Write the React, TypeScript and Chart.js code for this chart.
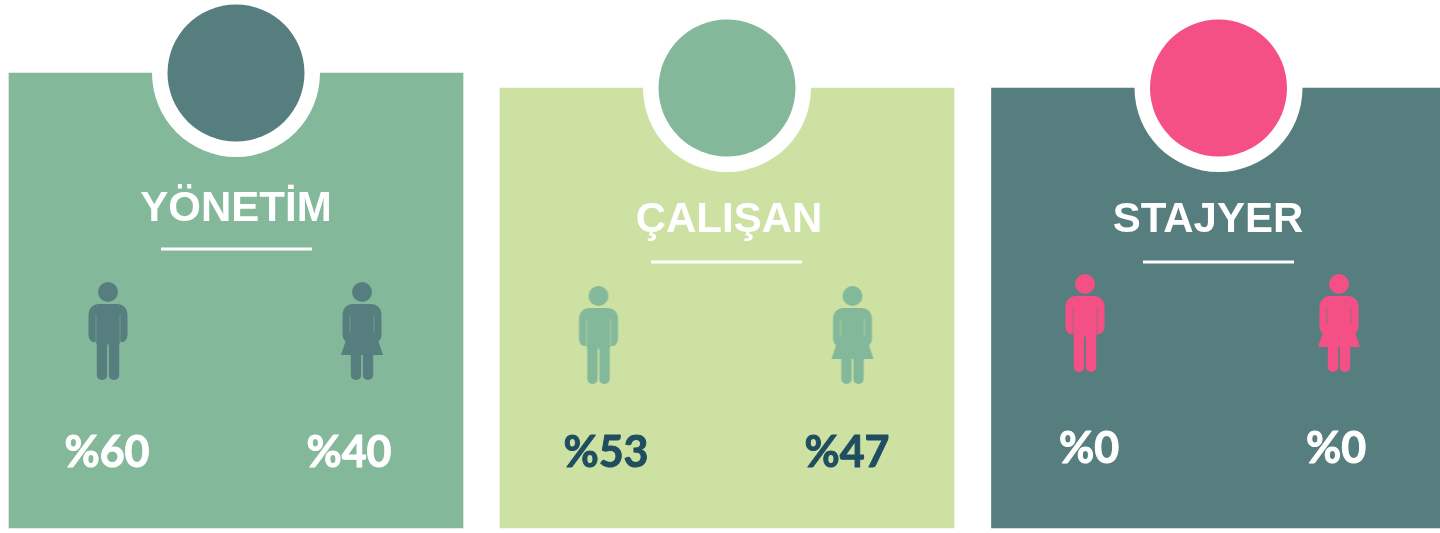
import React, { useEffect, useRef } from "react";
import { Chart, registerables } from "chart.js";

Chart.register(...registerables);

// --- data ---
const categories = ["YÖNETİM", "ÇALIŞAN", "STAJYER"];
const maleShare = [60, 53, 0];
const femaleShare = [40, 47, 0];

// --- layout (page pixels, the hidden scales run 1:1 with the page) ---
const W = 1440;
const H = 533;
const panelCentre = [236, 727, 1218.5];
const panelTop = [73, 88, 88];
const panelBottom = 528;
const titleCentre = [236, 729, 1208];
const titleBase = [221, 232, 232];
const ruleCentre = [236.5, 726.5, 1218.5];
const ruleY = [249, 262, 262];
const maleX = [108, 598.5, 1085];
const femaleX = [362, 852.5, 1339];
const figureMid = [331, 335, 323];
const maleTextX = [107, 606, 1089];
const femaleTextX = [349, 847, 1336];
const textBase = [467, 467, 463];

const panelColor = ["#84B89A", "#CDE2A2", "#567E7F"];
const discColor = ["#567E7F", "#84B89A", "#F45085"];
const textColor = ["#FFFFFF", "#1F4E60", "#FFFFFF"];

function figure(kind: "m" | "f", color: string, gap: string) {
  const c = document.createElement("canvas");
  const w = 50;
  const h = 98;
  c.width = w;
  c.height = h;
  const g = c.getContext("2d")!;
  g.translate(w / 2, 0);
  g.fillStyle = color;
  const rr = (x: number, y: number, rw: number, rh: number, r: any) => {
    g.beginPath();
    g.roundRect(x, y, rw, rh, r);
    g.fill();
  };
  g.beginPath();
  g.arc(0, 10, 10, 0, Math.PI * 2);
  g.fill();
  // shoulders and arms
  rr(-19.5, 22, 39, 39, [10, 10, 8, 8]);
  // legs
  const lw = 10.5;
  rr(-lw - 0.7, 50, lw, 48, 5);
  rr(0.7, 50, lw, 48, 5);
  g.fillRect(-lw - 0.7, 50, 2 * lw + 1.4, 14);
  if (kind === "f") {
    g.beginPath();
    g.moveTo(-14, 52);
    g.lineTo(14, 52);
    g.lineTo(21, 73);
    g.lineTo(-21, 73);
    g.closePath();
    g.fill();
  }
  // faint gaps between arms, body and legs
  g.globalAlpha = 0.55;
  g.fillStyle = gap;
  const gapBottom = kind === "m" ? 60 : 50;
  g.fillRect(-12.5, 33, 1, gapBottom - 33);
  g.fillRect(11.5, 33, 1, gapBottom - 33);
  g.globalAlpha = 1;
  if (kind === "m") {
    g.fillRect(-19.5, 60, 7.5, 3);
    g.fillRect(12, 60, 7.5, 3);
    g.globalAlpha = 0.7;
    g.fillRect(-0.7, 62, 1.4, 36);
  } else {
    g.globalAlpha = 0.7;
    g.fillRect(-0.7, 73, 1.4, 25);
  }
  return c;
}

const titlesAndValues = {
  id: "titlesAndValues",
  afterDatasetsDraw(chart: any) {
    const { ctx, scales } = chart;
    const px = (v: number) => scales.x.getPixelForValue(v);
    const py = (v: number) => scales.y.getPixelForValue(v);
    ctx.save();
    ctx.textAlign = "center";
    ctx.textBaseline = "alphabetic";
    ctx.lineJoin = "round";
    categories.forEach((name, i) => {
      ctx.fillStyle = "#FFFFFF";
      ctx.font = 'bold 42px "Liberation Sans"';
      ctx.fillText(name, px(titleCentre[i]), py(titleBase[i]));
      ctx.fillRect(px(ruleCentre[i] - 75.5), py(ruleY[i] - 1.5), 151, 3);
      ctx.fillStyle = textColor[i];
      ctx.strokeStyle = textColor[i];
      ctx.lineWidth = 1;
      ctx.font = 'bold 43px Lato';
      [
        [`%${maleShare[i]}`, maleTextX[i]],
        [`%${femaleShare[i]}`, femaleTextX[i]],
      ].forEach(([label, x]: any) => {
        ctx.fillText(label, px(x), py(textBase[i]));
        ctx.strokeText(label, px(x), py(textBase[i]));
      });
    });
    ctx.restore();
  },
};

export default function App() {
  const ref = useRef<HTMLCanvasElement>(null);
  useEffect(() => {
    const men = categories.map((_, i) => figure("m", discColor[i], panelColor[i]));
    const women = categories.map((_, i) => figure("f", discColor[i], panelColor[i]));
    const chart = new Chart(ref.current!, {
      type: "bar",
      data: {
        datasets: [
          {
            type: "scatter",
            label: "Kadın",
            order: 1,
            data: categories.map((_, i) => ({ x: femaleX[i], y: figureMid[i] })),
            pointStyle: women,
            pointRadius: 25,
          },
          {
            type: "scatter",
            label: "Erkek",
            order: 2,
            data: categories.map((_, i) => ({ x: maleX[i], y: figureMid[i] })),
            pointStyle: men,
            pointRadius: 25,
          },
          {
            type: "scatter",
            label: "Daire",
            order: 3,
            data: categories.map((_, i) => ({ x: panelCentre[i], y: panelTop[i] })),
            pointRadius: 68.5,
            pointBackgroundColor: discColor,
            pointBorderWidth: 0,
          },
          {
            type: "scatter",
            label: "Halka",
            order: 4,
            data: categories.map((_, i) => ({ x: panelCentre[i], y: panelTop[i] })),
            pointRadius: 84,
            pointBackgroundColor: "#FFFFFF",
            pointBorderWidth: 0,
          },
          {
            type: "bar",
            label: "Panel",
            order: 5,
            data: categories.map((_, i) => ({ x: panelCentre[i], y: [panelTop[i], panelBottom] })),
            backgroundColor: panelColor,
            barThickness: 454,
            grouped: false,
            borderWidth: 0,
          },
        ] as any,
      },
      options: {
        responsive: false,
        animation: false,
        layout: { padding: 0, autoPadding: false },
        plugins: { legend: { display: false }, tooltip: { enabled: false } },
        scales: {
          x: { type: "linear", min: 0, max: W, display: false, offset: false },
          y: { type: "linear", min: 0, max: H, reverse: true, display: false },
        },
      } as any,
      plugins: [titlesAndValues],
    });
    return () => chart.destroy();
  }, []);
  return (
    <canvas
      ref={ref}
      width={W}
      height={H}
      style={{ position: "absolute", left: 0, top: 0, display: "block", filter: "blur(0.6px)" }}
    />
  );
}
